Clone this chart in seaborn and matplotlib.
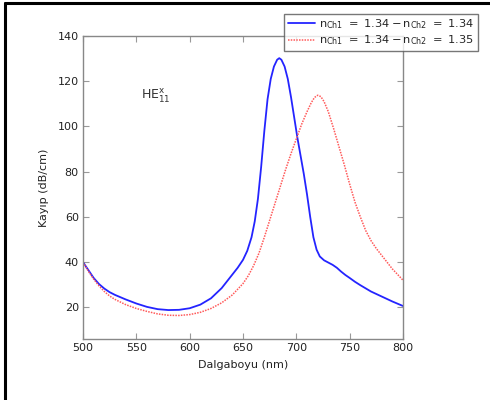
import numpy as np
import pandas as pd
import matplotlib
matplotlib.use("Agg")
import matplotlib.pyplot as plt
from matplotlib.lines import Line2D
import seaborn as sns

# Data
wl_blue = [500, 505, 510, 515, 520, 525, 530, 540, 550, 560, 570, 580, 590, 600, 610, 620, 630, 640, 645, 650,
           654, 658, 661, 664, 667, 670, 673, 676, 679, 682, 684, 686, 689, 692, 695, 698, 701, 704, 707, 710,
           713, 716, 719, 722, 726, 730, 734, 738, 742, 746, 750, 755, 760, 770, 780, 790, 800]
loss_blue = [40, 36.5, 33, 30.3, 28.3, 26.7, 25.5, 23.5, 21.7, 20.2, 19.2, 18.8, 18.9, 19.6, 21.2, 24, 28.5, 34.5, 37.5, 41,
             45, 51, 58, 68, 82, 98, 112, 121, 126.5, 129.5, 130.2, 129.5, 126.5, 121, 113, 104, 95, 87, 79, 70,
             60, 51, 45.5, 42.5, 40.8, 39.8, 38.8, 37.5, 35.8, 34.3, 33, 31.3, 29.8, 27, 24.8, 22.6, 20.6]

wl_red = [500, 505, 510, 515, 520, 525, 530, 540, 550, 560, 570, 580, 590, 600, 610, 620, 630, 640, 650, 655,
          660, 665, 670, 675, 680, 685, 690, 695, 700, 705, 710, 714, 717, 720, 723, 726, 730, 735, 740, 745,
          750, 755, 760, 765, 770, 775, 780, 785, 790, 795, 800]
loss_red = [40, 36, 32.5, 29.5, 27, 25, 23.5, 21.2, 19.5, 18.2, 17.1, 16.5, 16.4, 16.8, 17.8, 19.5, 22, 25.5, 30.5, 34,
            38.5, 44, 51, 58.5, 66, 73.5, 81, 88, 94.5, 101, 106.5, 110.5, 112.8, 113.8, 113.2, 111, 106.5, 99, 91, 83,
            74.5, 66.5, 60, 54, 49.5, 46, 43, 40, 37, 34.5, 32]

labels = [r'$\mathregular{n_{Ch1}\ =\ 1.34 - n_{Ch2}\ =\ 1.34}$',
          r'$\mathregular{n_{Ch1}\ =\ 1.34 - n_{Ch2}\ =\ 1.35}$']
x_ticks = [500, 550, 600, 650, 700, 750, 800]
y_ticks = [20, 40, 60, 80, 100, 120, 140]

df = pd.concat([
    pd.DataFrame({"wl": wl_blue, "loss": loss_blue, "series": labels[0]}),
    pd.DataFrame({"wl": wl_red, "loss": loss_red, "series": labels[1]}),
])

sns.set_style("ticks")
plt.rcParams['font.family'] = ['DejaVu Sans']

fig = plt.figure(figsize=(4.9, 4.0), dpi=100)
ax = fig.add_axes([83/490, 1-339/400, 320/490, 303/400])

sns.lineplot(data=df[df.series == labels[0]], x="wl", y="loss", ax=ax,
             color="#2424ff", linewidth=1.3, label=labels[0], sort=False)
sns.lineplot(data=df[df.series == labels[1]], x="wl", y="loss", ax=ax,
             color="#ff5a5a", linewidth=1.1, linestyle=(0, (1, 0.8)), label=labels[1], sort=False)

ax.set_xlim(500, 800)
ax.set_ylim(6, 140)
ax.set_xticks(x_ticks)
ax.set_yticks(y_ticks)
ax.tick_params(direction="in", top=True, right=True, length=4, width=0.8,
               color="#999999", labelsize=8, pad=3, labelcolor="#222222")
for s in ax.spines.values():
    s.set_color("#888888")
    s.set_linewidth(1.0)
ax.set_xlabel("Dalgaboyu (nm)", fontsize=8, color="#222222", labelpad=5)
ax.set_ylabel("Kayıp (dB/cm)", fontsize=8, color="#222222", labelpad=6)

ax.text(0.18, 0.79, r'$\mathregular{HE_{11}^{x}}$', transform=ax.transAxes,
        fontsize=9, color="#333333")

leg = ax.legend(loc="upper right", bbox_to_anchor=(478/490, 1-14/400),
                bbox_transform=fig.transFigure, fontsize=8.2, frameon=True,
                fancybox=False, handlelength=2.4, handletextpad=0.4,
                borderpad=0.3, labelspacing=0.2, borderaxespad=0)
leg.get_frame().set_edgecolor("#555555")
leg.get_frame().set_linewidth(1.0)

# outer frame of the picture (left and top edges)
fig.add_artist(Line2D([5/490, 5/490], [0, 1-3/400], transform=fig.transFigure,
                      color="black", linewidth=2.2))
fig.add_artist(Line2D([5/490, 1], [1-3/400, 1-3/400], transform=fig.transFigure,
                      color="black", linewidth=2.2))

fig.savefig("out.png", dpi=100)
